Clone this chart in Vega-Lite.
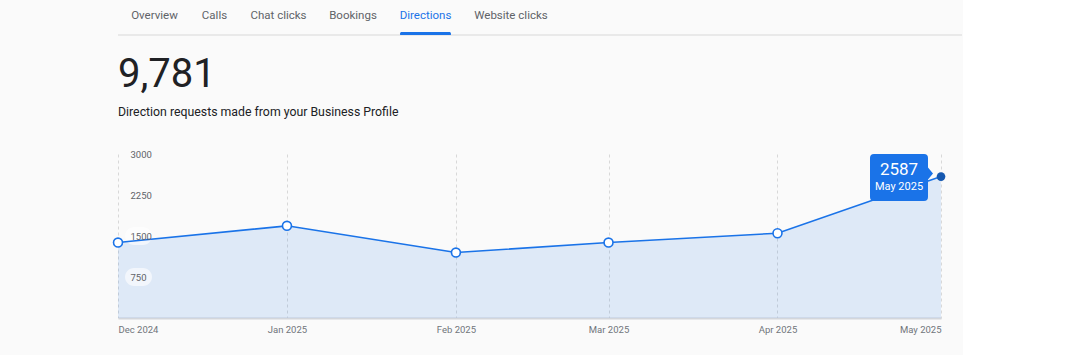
{
  "$schema": "https://vega.github.io/schema/vega-lite/v6.json",
  "background": "#fafafa",
  "padding": {"left": 110, "top": 0, "right": 0, "bottom": 21},
  "spacing": 18,
  "config": {"font": "Roboto", "view": {"stroke": null}},
  "datasets": {
    "tabs": [
      {"tab": "Overview", "active": false},
      {"tab": "Calls", "active": false},
      {"tab": "Chat clicks", "active": false},
      {"tab": "Bookings", "active": false},
      {"tab": "Directions", "active": true},
      {"tab": "Website clicks", "active": false},
      {"tab": "", "active": false}
    ],
    "monthly": [
      {"month": "2024/12/01", "value": 1380},
      {"month": "2025/01/01", "value": 1686},
      {"month": "2025/02/01", "value": 1197},
      {"month": "2025/03/01", "value": 1380},
      {"month": "2025/04/01", "value": 1551},
      {"month": "2025/05/01", "value": 2587}
    ],
    "yticks": [
      {"month": "2024/12/01", "value": 750},
      {"month": "2024/12/01", "value": 1500}
    ]
  },
  "vconcat": [
    {
      "hconcat": [
        {
          "width": 73, "height": 35, "data": {"name": "tabs"},
          "transform": [{"filter": "datum.tab === 'Overview'"}],
          "layer": [
            {"mark": {"type": "rule", "color": "#e3e3e3", "strokeWidth": 1.5}, "encoding": {"y": {"datum": 0, "type": "quantitative", "scale": {"domain": [0, 12]}, "axis": null}}},
            {"mark": {"type": "text", "fontSize": 11.5, "dy": -1.5, "baseline": "middle", "color": "#5f6368"}, "encoding": {"text": {"field": "tab"}}}
          ]
        },
        {
          "width": 47, "height": 35, "data": {"name": "tabs"},
          "transform": [{"filter": "datum.tab === 'Calls'"}],
          "layer": [
            {"mark": {"type": "rule", "color": "#e3e3e3", "strokeWidth": 1.5}, "encoding": {"y": {"datum": 0, "type": "quantitative", "scale": {"domain": [0, 12]}, "axis": null}}},
            {"mark": {"type": "text", "fontSize": 11.5, "dy": -1.5, "baseline": "middle", "color": "#5f6368"}, "encoding": {"text": {"field": "tab"}}}
          ]
        },
        {
          "width": 81, "height": 35, "data": {"name": "tabs"},
          "transform": [{"filter": "datum.tab === 'Chat clicks'"}],
          "layer": [
            {"mark": {"type": "rule", "color": "#e3e3e3", "strokeWidth": 1.5}, "encoding": {"y": {"datum": 0, "type": "quantitative", "scale": {"domain": [0, 12]}, "axis": null}}},
            {"mark": {"type": "text", "fontSize": 11.5, "dy": -1.5, "baseline": "middle", "color": "#5f6368"}, "encoding": {"text": {"field": "tab"}}}
          ]
        },
        {
          "width": 68, "height": 35, "data": {"name": "tabs"},
          "transform": [{"filter": "datum.tab === 'Bookings'"}],
          "layer": [
            {"mark": {"type": "rule", "color": "#e3e3e3", "strokeWidth": 1.5}, "encoding": {"y": {"datum": 0, "type": "quantitative", "scale": {"domain": [0, 12]}, "axis": null}}},
            {"mark": {"type": "text", "fontSize": 11.5, "dy": -1.5, "baseline": "middle", "color": "#5f6368"}, "encoding": {"text": {"field": "tab"}}}
          ]
        },
        {
          "width": 77, "height": 35, "data": {"name": "tabs"},
          "transform": [{"filter": "datum.tab === 'Directions'"}],
          "layer": [
            {"mark": {"type": "rule", "color": "#e3e3e3", "strokeWidth": 1.5}, "encoding": {"y": {"datum": 0, "type": "quantitative", "scale": {"domain": [0, 12]}, "axis": null}}},
            {"mark": {"type": "text", "fontSize": 11.5, "dy": -1.5, "baseline": "middle", "color": "#1a73e8"}, "encoding": {"text": {"field": "tab"}}},
            {
              "mark": {"type": "bar", "color": "#1a73e8", "cornerRadiusTopLeft": 2, "cornerRadiusTopRight": 2},
              "encoding": {
                "x": {"datum": -0.66, "type": "quantitative", "scale": {"domain": [-1, 1]}, "axis": null},
                "x2": {"datum": 0.66},
                "y": {"datum": 0, "type": "quantitative"},
                "y2": {"datum": 1}
              }
            }
          ]
        },
        {
          "width": 94, "height": 35, "data": {"name": "tabs"},
          "transform": [{"filter": "datum.tab === 'Website clicks'"}],
          "layer": [
            {"mark": {"type": "rule", "color": "#e3e3e3", "strokeWidth": 1.5}, "encoding": {"y": {"datum": 0, "type": "quantitative", "scale": {"domain": [0, 12]}, "axis": null}}},
            {"mark": {"type": "text", "fontSize": 11.5, "dy": -1.5, "baseline": "middle", "color": "#5f6368"}, "encoding": {"text": {"field": "tab"}}}
          ]
        },
        {
          "width": 404, "height": 35, "data": {"name": "tabs"},
          "transform": [{"filter": "datum.tab === ''"}],
          "layer": [
            {"mark": {"type": "rule", "color": "#e3e3e3", "strokeWidth": 1.5}, "encoding": {"y": {"datum": 0, "type": "quantitative", "scale": {"domain": [0, 12]}, "axis": null}}}
          ]
        }
      ],
      "spacing": 0,
      "bounds": "flush"
    },
    {
      "width": 823,
      "height": 164,
      "title": {
        "text": "9,781",
        "subtitle": "Direction requests made from your Business Profile",
        "anchor": "start", "frame": "group",
        "fontSize": 40, "fontWeight": "normal", "color": "#202124",
        "subtitleFontSize": 12.3, "subtitleColor": "#202124", "subtitlePadding": 11,
        "offset": 31
      },
      "encoding": {
        "x": {
          "field": "month", "type": "temporal",
          "axis": {
            "title": null, "format": "%b %Y", "tickCount": {"interval": "month", "step": 1},
            "labelFlush": true, "grid": true, "gridDash": [3, 3], "gridColor": "#d8d8d8",
            "domainColor": "#d3d6db", "domainWidth": 2, "ticks": false,
            "labelFontSize": 9.5, "labelColor": "#70757a", "labelPadding": 6
          }
        },
        "y": {
          "field": "value", "type": "quantitative",
          "scale": {"domain": [0, 3000]},
          "axis": {
            "title": null, "values": [750, 1500, 2250, 3000], "format": "d", "labelAlign": "left", "labelPadding": -12,
            "labelBaseline": "middle", "domain": false, "ticks": false, "grid": false,
            "labelFontSize": 9.5, "labelColor": "#5f6368", "zindex": 1
          }
        }
      },
      "layer": [
        {"data": {"name": "monthly"}, "mark": {"type": "area", "color": "#1a73e8", "opacity": 0.12}},
        {
          "data": {"name": "yticks"},
          "mark": {
            "type": "point", "filled": true, "color": "white", "opacity": 0.6, "size": 400, "strokeWidth": 0,
            "shape": "M 1.6 -0.9 L 2.5 -0.9 A 0.9 0.9 0 0 1 2.5 0.9 L 1.6 0.9 A 0.9 0.9 0 0 1 1.6 -0.9 Z"
          }
        },
        {"data": {"name": "monthly"}, "mark": {"type": "line", "color": "#1a73e8", "strokeWidth": 1.6}},
        {
          "data": {"name": "monthly"},
          "transform": [{"filter": {"not": {"field": "month", "timeUnit": "yearmonth", "equal": {"year": 2025, "month": 5}}}}],
          "mark": {"type": "point", "filled": true, "fill": "white", "stroke": "#1a73e8", "strokeWidth": 1.6, "size": 80, "opacity": 1}
        },
        {
          "data": {"name": "monthly"},
          "transform": [{"filter": {"field": "month", "timeUnit": "yearmonth", "equal": {"year": 2025, "month": 5}}}],
          "layer": [
            {
              "mark": {
                "type": "point", "filled": true, "color": "#1a73e8", "opacity": 1, "size": 400, "strokeWidth": 0,
                "shape": "M -6.7 -2.27 L -1.7 -2.27 Q -1.3 -2.27 -1.3 -1.87 L -1.3 -0.9 L -0.8 -0.3 L -1.3 0.3 L -1.3 2.03 Q -1.3 2.43 -1.7 2.43 L -6.7 2.43 Q -7.1 2.43 -7.1 2.03 L -7.1 -1.87 Q -7.1 -2.27 -6.7 -2.27 Z"
              }
            },
            {"mark": {"type": "point", "filled": true, "color": "#1558b0", "opacity": 1, "size": 75}},
            {
              "mark": {"type": "text", "color": "white", "fontSize": 17, "dx": -42, "dy": -7, "baseline": "middle"},
              "encoding": {"text": {"field": "value", "type": "quantitative", "format": "d"}}
            },
            {
              "mark": {"type": "text", "color": "white", "fontSize": 11, "dx": -42, "dy": 10, "baseline": "middle"},
              "encoding": {"text": {"field": "month", "type": "temporal", "format": "%b %Y"}}
            }
          ]
        }
      ]
    }
  ]
}
